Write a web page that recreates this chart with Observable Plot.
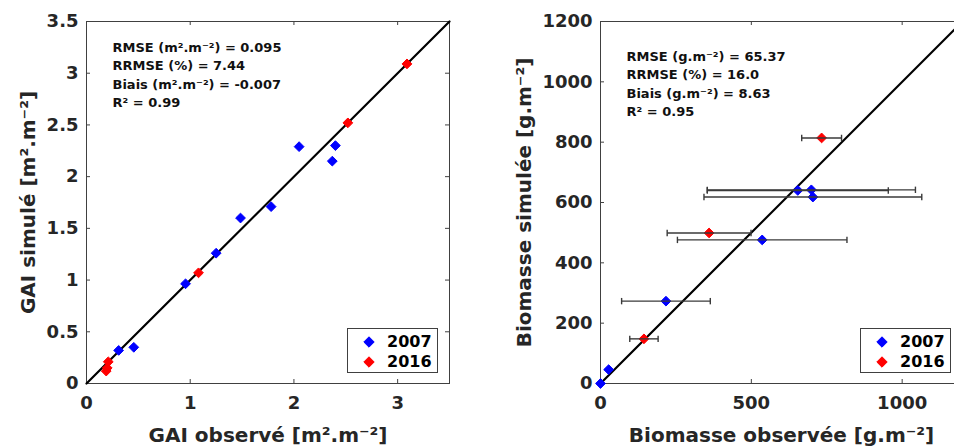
<!DOCTYPE html>
<html><head><meta charset="utf-8">
<script src="https://cdn.jsdelivr.net/npm/d3@7"></script>
<script src="https://cdn.jsdelivr.net/npm/@observablehq/plot@0.6"></script>
<style>
html,body{margin:0;padding:0;background:#fff;}
#wrap{position:relative;width:954px;height:446px;overflow:hidden;font-family:"DejaVu Sans",sans-serif;}
#left,#right{position:absolute;top:0;height:446px;}
#left{left:0;width:470px;} #right{left:500px;width:480px;}
#wrap svg{max-width:none !important;}
.legend{position:absolute;top:328px;width:91px;height:45px;border:1px solid #404040;background:#fff;box-sizing:border-box;font:bold 16px "DejaVu Sans",sans-serif;color:#000;}
.legend .row{position:absolute;left:0;height:20px;line-height:20px;}
.legend svg{position:absolute;left:14px;top:3px;}
.legend span{position:absolute;left:39px;top:0;}
</style></head><body>
<div id="wrap"><div id="left"></div><div id="right"></div></div>
<script>
// ---- categories / legend ----
const years = ["2007", "2016"];
const yearColors = ["#0000ff", "#ff0000"];

// ---- GAI panel (observed vs simulated, m2.m-2) ----
const gaiYear = ["2007","2007","2007","2007","2007","2007","2007","2007","2007",
                 "2016","2016","2016","2016","2016","2016"];
const gaiObs = [0.31, 0.456, 0.955, 1.25, 1.485, 1.78, 2.05, 2.40, 2.37,
                0.21, 0.19, 0.20, 1.08, 2.52, 3.09];
const gaiSim = [0.32, 0.35, 0.964, 1.26, 1.60, 1.71, 2.29, 2.30, 2.15,
                0.21, 0.12, 0.15, 1.07, 2.52, 3.09];
const gaiXTicks = [0, 1, 2, 3];
const gaiYTicks = [0, 0.5, 1, 1.5, 2, 2.5, 3, 3.5];
const gaiLine = [0, 3.5];
const gaiStats = ["RMSE (m².m⁻²) = 0.095", "RRMSE (%) = 7.44", "Biais (m².m⁻²) = -0.007", "R² = 0.99"];

// ---- Biomass panel (g.m-2) ----
const bioYear = ["2007","2007","2007","2007","2007","2007","2007","2016","2016","2016"];
const bioObs = [0, 27, 217, 536, 654, 699, 704, 144, 360, 733];
const bioSim = [0, 46, 273, 476, 640, 642, 618, 148, 499, 814];
const bioErr = [0, 0, 147, 281, 300, 345, 361, 47, 139, 66];
const bioXTicks = [0, 500, 1000];
const bioYTicks = [0, 200, 400, 600, 800, 1000, 1200];
const bioLine = [0, 1200];
const bioStats = ["RMSE (g.m⁻²) = 65.37", "RRMSE (%) = 16.0", "Biais (g.m⁻²) = 8.63", "R² = 0.95"];

const gai = gaiObs.map((x, i) => ({x, y: gaiSim[i], year: gaiYear[i]}));
const bio = bioObs.map((x, i) => ({x, y: bioSim[i], err: bioErr[i], year: bioYear[i]}));
const bioBars = bio.filter(d => d.err > 0);

const axisColor = "#404040";
const capSymbol = {draw(ctx) { ctx.moveTo(0, -3.2); ctx.lineTo(0, 3.2); }};

function panel({data, bars, xDomain, xTicks, yTicks, line, stats, xLabel, yLabel,
                width, marginLeft, marginRight, yLabelDx, statsDy}) {
  const marginTop = 21, marginBottom = 63, height = 446;
  const pw = width - marginLeft - marginRight, ph = height - marginTop - marginBottom;
  const tk = 4;
  const marks = [
    Plot.frame({stroke: axisColor, strokeWidth: 1}),
    Plot.ruleX(xTicks, {x: d => d, insetTop: ph - tk, stroke: axisColor}),
    Plot.ruleX(xTicks, {x: d => d, insetBottom: ph - tk, stroke: axisColor}),
    Plot.ruleY(yTicks, {y: d => d, insetRight: pw - tk, stroke: axisColor}),
    Plot.ruleY(yTicks, {y: d => d, insetLeft: pw - tk, stroke: axisColor}),
    Plot.axisX({ticks: xTicks, tickFormat: d => String(d), tickSize: 0, tickPadding: 13,
      label: null, fontSize: 18}),
    Plot.axisY({ticks: yTicks, tickFormat: d => String(d), tickSize: 0, tickPadding: 8,
      label: null, fontSize: 18}),
    Plot.text([xLabel], {frameAnchor: "bottom", textAnchor: "middle", lineAnchor: "middle",
      dy: 52, fontSize: 20, fontWeight: "bold", fill: "#262626"}),
    Plot.text([yLabel], {frameAnchor: "left", textAnchor: "middle", lineAnchor: "middle",
      rotate: -90, dx: yLabelDx, fontSize: 20, fontWeight: "bold", fill: "#262626"}),
    Plot.line(line.map(v => ({x: v, y: v})), {x: "x", y: "y", stroke: "#000", strokeWidth: 2.2}),
    Plot.dot(data, {x: "x", y: "y", fill: "year", stroke: "year", strokeWidth: 1,
      symbol: "diamond2", r: 4.4})
  ];
  if (bars) {
    marks.push(
      Plot.link(bars, {x1: d => d.x - d.err, x2: d => d.x + d.err, y1: "y", y2: "y",
        stroke: "#3a3a3a", strokeWidth: 1.4}),
      Plot.dot(bars, {x: d => d.x - d.err, y: "y", symbol: capSymbol, stroke: "#3a3a3a", strokeWidth: 1.4, r: 3}),
      Plot.dot(bars, {x: d => d.x + d.err, y: "y", symbol: capSymbol, stroke: "#3a3a3a", strokeWidth: 1.4, r: 3})
    );
  }
  marks.push(Plot.text([stats.join("\n")], {frameAnchor: "top-left", textAnchor: "start",
    lineAnchor: "top", dx: 26, dy: statsDy, fontSize: 13, fontWeight: "bold", fill: "#111",
    lineHeight: 1.42}));
  return Plot.plot({
    width, height, marginTop, marginBottom, marginLeft, marginRight,
    style: {fontFamily: "DejaVu Sans", fontWeight: "bold", color: "#262626", background: "#fff", overflow: "visible", maxWidth: "none"},
    x: {domain: xDomain, label: null},
    y: {domain: xDomain, label: null},
    color: {domain: years, range: yearColors},
    marks
  });
}

document.getElementById("left").append(panel({
  data: gai, bars: null, xDomain: [0, 3.5], xTicks: gaiXTicks, yTicks: gaiYTicks, line: gaiLine,
  stats: gaiStats, xLabel: "GAI observé [m².m⁻²]", yLabel: "GAI simulé [m².m⁻²]",
  width: 470, marginLeft: 86, marginRight: 21, yLabelDx: -58, statsDy: 17
}));
document.getElementById("right").append(panel({
  data: bio, bars: bioBars, xDomain: [0, 1200], xTicks: bioXTicks, yTicks: bioYTicks, line: bioLine,
  stats: bioStats, xLabel: "Biomasse observée [g.m⁻²]", yLabel: "Biomasse simulée [g.m⁻²]",
  width: 480, marginLeft: 100, marginRight: 18, yLabelDx: -76, statsDy: 26
}));

// legends
function legend(left) {
  const div = document.createElement("div");
  div.className = "legend";
  div.style.left = left + "px";
  years.forEach((y, i) => {
    const row = document.createElement("div");
    row.className = "row";
    row.style.top = (3 + i * 20) + "px";
    row.style.width = "89px";
    row.innerHTML = `<svg width="14" height="14" viewBox="-7 -7 14 14"><path d="M0,-5.2L5.2,0L0,5.2L-5.2,0Z" fill="${yearColors[i]}" stroke="${yearColors[i]}" stroke-width="1"/></svg><span>${y}</span>`;
    div.append(row);
  });
  document.getElementById("wrap").append(div);
}
legend(347);
legend(860);
</script>
</body></html>
